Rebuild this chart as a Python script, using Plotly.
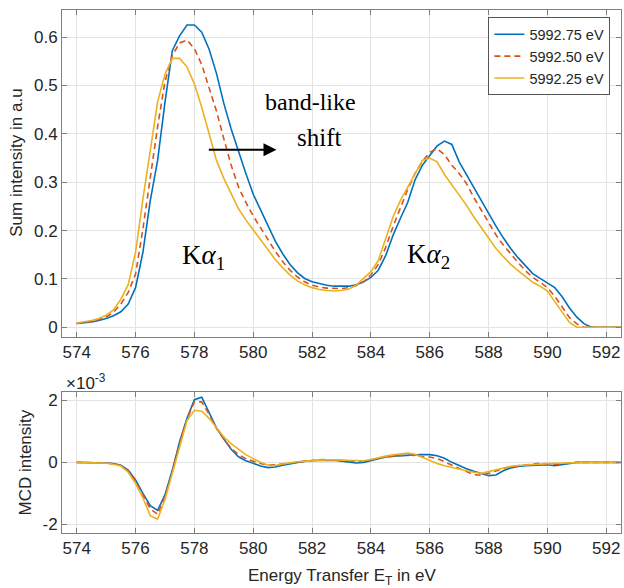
import plotly.graph_objects as go

# ---------------- data ----------------
energy = [574.00, 574.25, 574.50, 574.75, 575.00, 575.25, 575.50, 575.75,
          576.00, 576.25, 576.50, 576.75, 577.00, 577.25, 577.50, 577.75,
          578.00, 578.25, 578.50, 578.75, 579.00, 579.25, 579.50, 579.75,
          580.00, 580.25, 580.50, 580.75, 581.00, 581.25, 581.50, 581.75,
          582.00, 582.25, 582.50, 582.75, 583.00, 583.25, 583.50, 583.75,
          584.00, 584.25, 584.50, 584.75, 585.00, 585.25, 585.50, 585.75,
          586.00, 586.25, 586.50, 586.75, 587.00, 587.25, 587.50, 587.75,
          588.00, 588.25, 588.50, 588.75, 589.00, 589.25, 589.50, 589.75,
          590.00, 590.25, 590.50, 590.75, 591.00, 591.25, 591.50, 591.75,
          592.00, 592.25, 592.50]

series_names = ["5992.75 eV", "5992.50 eV", "5992.25 eV"]

sum_5992_75 = [0.008, 0.009, 0.011, 0.014, 0.018, 0.024, 0.032, 0.048,
               0.082, 0.155, 0.262, 0.345, 0.465, 0.572, 0.603, 0.625,
               0.625, 0.610, 0.575, 0.525, 0.463, 0.410, 0.362, 0.318,
               0.275, 0.242, 0.208, 0.178, 0.152, 0.130, 0.113, 0.101,
               0.094, 0.090, 0.087, 0.085, 0.085, 0.085, 0.088, 0.094,
               0.103, 0.118, 0.148, 0.190, 0.225, 0.258, 0.305, 0.335,
               0.355, 0.375, 0.385, 0.378, 0.342, 0.315, 0.290, 0.264,
               0.236, 0.209, 0.185, 0.163, 0.144, 0.127, 0.111, 0.101,
               0.092, 0.082, 0.063, 0.040, 0.021, 0.007, 0.000, 0.000,
               0.000, 0.000, 0.000]

sum_5992_50 = [0.008, 0.010, 0.012, 0.016, 0.021, 0.031, 0.048, 0.072,
               0.110, 0.203, 0.310, 0.415, 0.508, 0.562, 0.588, 0.594,
               0.576, 0.543, 0.495, 0.447, 0.390, 0.335, 0.290, 0.258,
               0.230, 0.205, 0.180, 0.157, 0.136, 0.118, 0.104, 0.094,
               0.087, 0.083, 0.081, 0.080, 0.080, 0.082, 0.086, 0.094,
               0.108, 0.130, 0.165, 0.208, 0.248, 0.285, 0.318, 0.343,
               0.362, 0.369, 0.357, 0.335, 0.318, 0.297, 0.268, 0.243,
               0.216, 0.191, 0.170, 0.151, 0.134, 0.117, 0.103, 0.093,
               0.082, 0.064, 0.042, 0.020, 0.007, 0.000, 0.000, 0.000,
               0.000, 0.000, 0.000]

sum_5992_25 = [0.009, 0.011, 0.014, 0.018, 0.025, 0.036, 0.058, 0.088,
               0.155, 0.265, 0.370, 0.466, 0.523, 0.556, 0.556, 0.538,
               0.503, 0.455, 0.400, 0.345, 0.308, 0.275, 0.245, 0.222,
               0.202, 0.180, 0.160, 0.140, 0.123, 0.108, 0.096, 0.088,
               0.082, 0.078, 0.076, 0.075, 0.076, 0.079, 0.087, 0.100,
               0.115, 0.138, 0.185, 0.228, 0.262, 0.290, 0.320, 0.345,
               0.350, 0.342, 0.316, 0.295, 0.274, 0.252, 0.228, 0.206,
               0.184, 0.163, 0.146, 0.130, 0.117, 0.104, 0.093, 0.085,
               0.075, 0.053, 0.031, 0.010, 0.000, 0.000, 0.000, 0.000,
               0.000, 0.000, 0.000]

# MCD values in units of 1e-3
mcd_5992_75 = [0.00, 0.00, 0.00, -0.01, -0.02, -0.04, -0.09, -0.25,
               -0.57, -1.00, -1.40, -1.55, -1.05, -0.25, 0.67, 1.42,
               2.02, 2.10, 1.62, 1.11, 0.75, 0.42, 0.18, 0.05,
               -0.03, -0.12, -0.17, -0.15, -0.09, -0.04, 0.00, 0.04,
               0.06, 0.07, 0.08, 0.07, 0.04, 0.00, -0.02, 0.00,
               0.06, 0.12, 0.17, 0.20, 0.22, 0.23, 0.24, 0.25,
               0.25, 0.21, 0.13, 0.00, -0.11, -0.21, -0.29, -0.37,
               -0.43, -0.41, -0.27, -0.18, -0.13, -0.11, -0.10, -0.08,
               -0.08, -0.11, -0.08, -0.03, 0.00, 0.00, 0.00, 0.00,
               0.00, 0.00, 0.00]

mcd_5992_50 = [0.00, 0.00, 0.00, -0.01, -0.02, -0.05, -0.10, -0.28,
               -0.60, -1.05, -1.50, -1.68, -1.10, -0.30, 0.65, 1.40,
               1.95, 1.95, 1.55, 1.10, 0.75, 0.45, 0.25, 0.12,
               0.04, -0.04, -0.08, -0.08, -0.05, -0.02, 0.01, 0.04,
               0.06, 0.08, 0.09, 0.07, 0.05, 0.03, 0.03, 0.05,
               0.08, 0.13, 0.17, 0.20, 0.22, 0.24, 0.22, 0.18,
               0.17, 0.12, 0.02, -0.10, -0.20, -0.30, -0.40, -0.42,
               -0.36, -0.28, -0.20, -0.14, -0.11, -0.09, -0.06, -0.03,
               -0.05, -0.07, -0.05, -0.02, 0.00, 0.00, 0.00, 0.00,
               0.00, 0.00, 0.00]

mcd_5992_25 = [0.00, 0.00, -0.01, -0.02, -0.03, -0.06, -0.12, -0.32,
               -0.68, -1.15, -1.72, -1.83, -1.20, -0.35, 0.55, 1.35,
               1.68, 1.65, 1.42, 1.12, 0.82, 0.60, 0.42, 0.25,
               0.12, 0.00, -0.09, -0.10, -0.05, -0.01, 0.02, 0.04,
               0.06, 0.07, 0.08, 0.08, 0.07, 0.05, 0.04, 0.05,
               0.09, 0.15, 0.20, 0.24, 0.27, 0.30, 0.26, 0.16,
               0.05, -0.04, -0.11, -0.17, -0.22, -0.27, -0.32, -0.35,
               -0.30, -0.24, -0.18, -0.13, -0.10, -0.08, -0.07, -0.05,
               -0.04, -0.03, -0.02, -0.01, 0.00, 0.00, 0.00, 0.00,
               0.00, 0.00, 0.00]

x_ticks = [574, 576, 578, 580, 582, 584, 586, 588, 590, 592]
sum_ticks = [0, 0.1, 0.2, 0.3, 0.4, 0.5, 0.6]
sum_tick_labels = ["0", "0.1", "0.2", "0.3", "0.4", "0.5", "0.6"]
mcd_ticks = [-2, 0, 2]
mcd_tick_labels = ["-2", "0", "2"]

# ---------------- styling ----------------
colors = ["#0072BD", "#D95319", "#EDB120"]
dashes = ["solid", "6px,4px", "solid"]
FONT = "Liberation Sans, Arial, sans-serif"
SERIF = "Liberation Serif, Times New Roman, serif"
TXT = "#262626"
GRID = "#e3e3e3"
FRAME = "#7f7f7f"

fig = go.Figure()

for name, ys, c, d in zip(series_names, [sum_5992_75, sum_5992_50, sum_5992_25], colors, dashes):
    fig.add_trace(go.Scatter(x=energy, y=ys, mode="lines", name=name,
                             line=dict(color=c, width=1.6, dash=d),
                             xaxis="x", yaxis="y"))

for name, ys, c, d in zip(series_names, [mcd_5992_75, mcd_5992_50, mcd_5992_25], colors, dashes):
    fig.add_trace(go.Scatter(x=energy, y=ys, mode="lines", name=name, showlegend=False,
                             line=dict(color=c, width=1.6, dash=d),
                             xaxis="x2", yaxis="y2"))

axis_common = dict(showline=True, linecolor=FRAME, linewidth=1, mirror="ticks",
                   ticks="inside", ticklen=5, tickcolor=FRAME, showgrid=True,
                   gridcolor=GRID, gridwidth=1, zeroline=False, automargin=False,
                   ticklabeloverflow="allow",
                   tickfont=dict(family=FONT, size=17, color=TXT))

fig.update_layout(
    width=624, height=588,
    margin=dict(l=62, r=3, t=10, b=55),
    paper_bgcolor="white", plot_bgcolor="white",
    font=dict(family=FONT, size=17, color=TXT),
    xaxis=dict(domain=[0, 1], anchor="y", range=[573.5, 592.5], tickvals=x_ticks, **axis_common),
    yaxis=dict(domain=[0.3753, 1], anchor="x", range=[-0.0195, 0.656],
               tickvals=sum_ticks, ticktext=sum_tick_labels, **axis_common),
    xaxis2=dict(domain=[0, 1], anchor="y2", range=[573.5, 592.5], tickvals=x_ticks, **axis_common),
    yaxis2=dict(domain=[0, 0.2702], anchor="x2", range=[-2.28, 2.28],
                tickvals=mcd_ticks, ticktext=mcd_tick_labels, **axis_common),
    legend=dict(x=0.981, y=0.986, xanchor="right", yanchor="top",
                bgcolor="white", bordercolor="#555555", borderwidth=1,
                font=dict(family=FONT, size=14.5, color=TXT),
                tracegroupgap=0, itemwidth=30),
    showlegend=True,
)

# axis titles
fig.add_annotation(x=-0.0805, y=0.708, xref="paper", yref="paper", text="Sum intensity in a.u",
                   textangle=-90, showarrow=False, xanchor="center", yanchor="middle",
                   font=dict(family=FONT, size=17, color=TXT))
fig.add_annotation(x=-0.066, y=0.135, xref="paper", yref="paper", text="MCD intensity",
                   textangle=-90, showarrow=False, xanchor="center", yanchor="middle",
                   font=dict(family=FONT, size=17, color=TXT))
fig.add_annotation(x=0.5, y=-0.085, xref="paper", yref="paper", text="Energy Transfer E<sub>T</sub> in eV",
                   showarrow=False, xanchor="center", yanchor="middle",
                   font=dict(family=FONT, size=17, color=TXT))
fig.add_annotation(x=0.003, y=0.2887, xref="paper", yref="paper", xanchor="left", yanchor="middle",
                   text="×10<sup>-3</sup>", showarrow=False, font=dict(family=FONT, size=17, color=TXT))

# in-plot annotations
fig.add_annotation(x=581.93, y=0.466, xref="x", yref="y", text="band-like", showarrow=False,
                   font=dict(family=SERIF, size=24, color="black"))
fig.add_annotation(x=582.25, y=0.393, xref="x", yref="y", text="shift", showarrow=False,
                   font=dict(family=SERIF, size=25, color="black"))
fig.add_annotation(x=580.79, y=0.367, ax=578.44, ay=0.367, xref="x", yref="y", axref="x", ayref="y",
                   text="", showarrow=True, arrowhead=2, arrowsize=1.3, arrowwidth=2, arrowcolor="black")
fig.add_annotation(x=578.3, y=0.146, xref="x", yref="y", text="K<i>α</i><sub>1</sub>", showarrow=False,
                   font=dict(family=SERIF, size=27, color="black"))
fig.add_annotation(x=585.95, y=0.147, xref="x", yref="y", text="K<i>α</i><sub>2</sub>", showarrow=False,
                   font=dict(family=SERIF, size=27, color="black"))

fig.write_html("out.html", config={"displayModeBar": False},
               post_script="document.body.style.margin='0px';")
